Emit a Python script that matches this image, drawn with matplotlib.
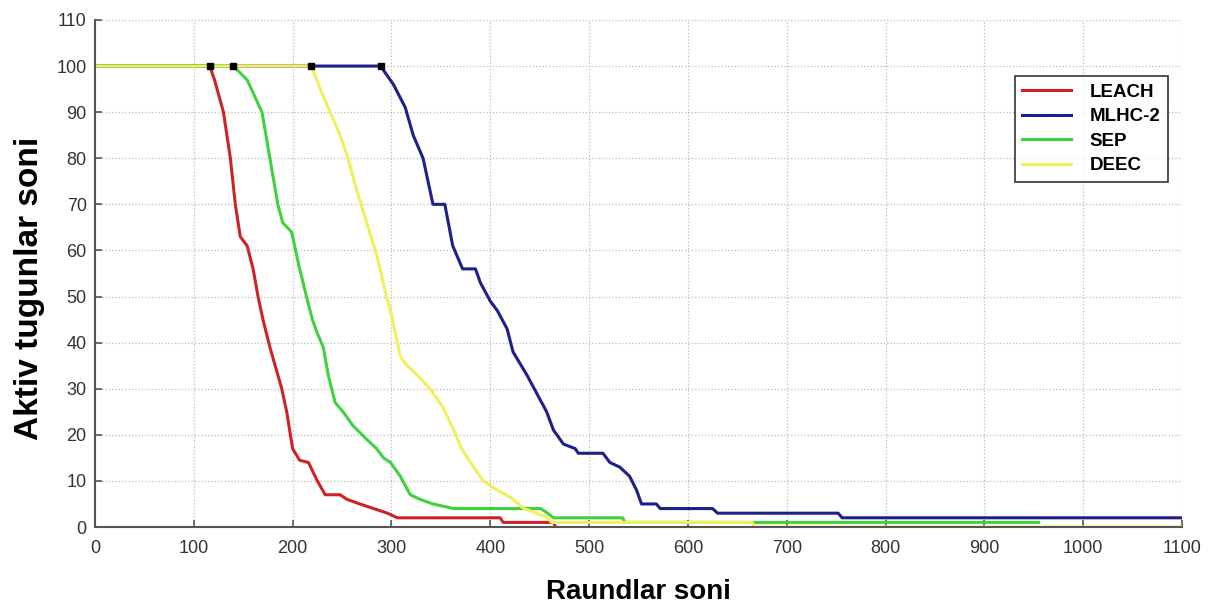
import matplotlib
matplotlib.use("Agg")
import matplotlib.pyplot as plt

# data (rounds vs. alive nodes)
leach_x = [0, 116, 121, 130, 137, 142, 147, 154, 160, 165, 170, 177, 185, 189, 194, 200, 207, 216, 225, 233, 248, 255, 268, 282, 296, 306, 410, 413, 464, 466]
leach_y = [100, 100, 97, 90, 80, 70, 63, 61, 56, 50, 45, 39, 33, 30, 25, 17, 14.5, 14, 10, 7, 7, 6, 5, 4, 3, 2, 2, 1, 1, 0]

mlhc_x = [0, 289, 302, 314, 322, 332, 342, 354, 362, 372, 385, 390, 400, 407, 417, 423, 437, 447, 457, 464, 474, 486, 489, 514, 521, 531, 541, 548, 553, 568, 572, 625, 630, 752, 756, 1100]
mlhc_y = [100, 100, 96, 91, 85, 80, 70, 70, 61, 56, 56, 53, 49, 47, 43, 38, 33, 29, 25, 21, 18, 17, 16, 16, 14, 13, 11, 8, 5, 5, 4, 4, 3, 3, 2, 2]

sep_x = [0, 140, 154, 169, 177, 185, 190, 199, 206, 214, 220, 225, 231, 236, 243, 251, 261, 275, 285, 292, 299, 309, 319, 329, 342, 363, 451, 458, 464, 534, 536, 955]
sep_y = [100, 100, 97, 90, 80, 70, 66, 64, 57, 50, 45, 42, 39, 33, 27, 25, 22, 19, 17, 15, 14, 11, 7, 6, 5, 4, 4, 3, 2, 2, 1, 1]

deec_x = [0, 219, 228, 238, 248, 256, 265, 275, 285, 295, 300, 305, 309, 316, 326, 339, 352, 363, 371, 383, 393, 407, 420, 434, 447, 458, 462, 665, 667, 1100]
deec_y = [100, 100, 95, 90, 85, 80, 73, 66, 59, 50, 46, 41, 37, 35, 33, 30, 26, 21, 17, 13, 10, 8, 6.5, 4, 3, 2, 1, 1, 0, 0]

# first node death points
fnd_x = [116, 140, 219, 289]
fnd_y = [100, 100, 100, 100]

x_ticks = list(range(0, 1101, 100))
y_ticks = list(range(0, 111, 10))

plt.rcParams['font.family'] = ['Liberation Sans', 'DejaVu Sans']

fig = plt.figure(figsize=(12.13, 6.05), dpi=100)
ax = fig.add_axes([0.0783, 0.1289, 0.8962, 0.8381])

ax.plot(leach_x, leach_y, color='#cc2424', lw=2.2, label='LEACH')
ax.plot(mlhc_x, mlhc_y, color='#1f1f88', lw=2.2, label='MLHC-2')
ax.plot(sep_x, sep_y, color='#40d040', lw=2.2, label='SEP')
ax.plot(deec_x, deec_y, color='#f0f05a', lw=2.2, label='DEEC')
ax.plot(fnd_x, fnd_y, 's', color='black', ms=5, ls='none')

ax.set_xlim(0, 1100)
ax.set_ylim(0, 110)
ax.set_xticks(x_ticks)
ax.set_yticks(y_ticks)
ax.grid(True, ls=':', color='#bbbbbb', lw=0.9)
ax.set_axisbelow(True)

for s in ['top', 'right']:
    ax.spines[s].set_visible(False)
for s in ['left', 'bottom']:
    ax.spines[s].set_color('#555555')
    ax.spines[s].set_linewidth(1.5)
ax.tick_params(direction='in', length=5, width=1.2, colors='#555555',
               labelcolor='#333333', labelsize=13)
ax.tick_params(axis='x', pad=9)
ax.tick_params(axis='y', pad=6)

ax.set_xlabel('Raundlar soni', fontsize=20, fontweight='bold', labelpad=16)
ax.set_ylabel('Aktiv tugunlar soni', fontsize=24, fontweight='bold')
ax.yaxis.set_label_coords(-0.046, 0.471)

leg = ax.legend(loc='upper right', bbox_to_anchor=(0.987, 0.8895),
                prop={'weight': 'bold', 'size': 13.5}, frameon=True, fancybox=False,
                edgecolor='black', handlelength=2.6, handletextpad=1.0,
                labelspacing=0.4, borderpad=0.4, borderaxespad=0)
leg.get_frame().set_linewidth(1.2)

plt.savefig('out.png', dpi=100)
plt.close()
